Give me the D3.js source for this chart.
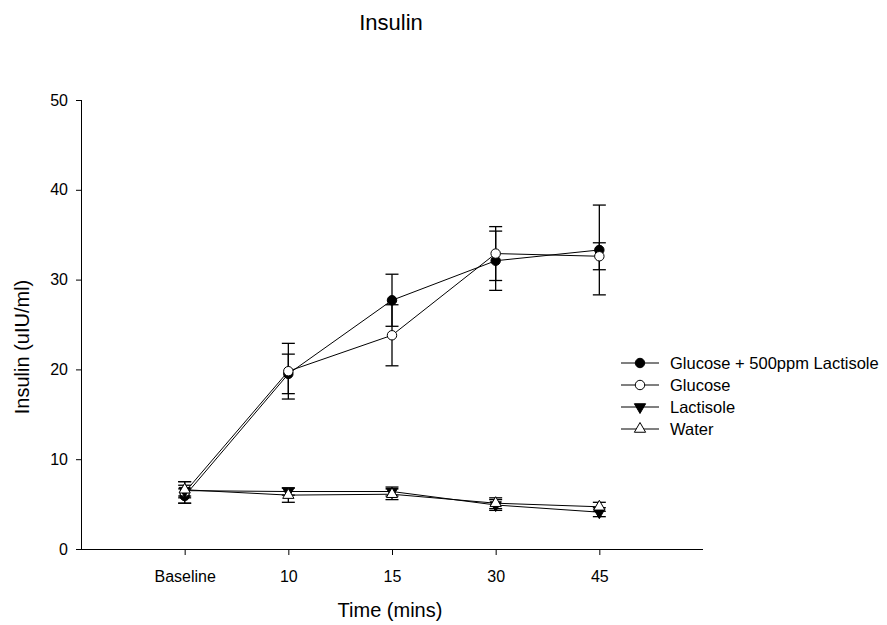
<!DOCTYPE html>
<html>
<head>
<meta charset="utf-8">
<script src="https://cdn.jsdelivr.net/npm/d3@7"></script>
<style>
  body { margin: 0; background: #fff; }
  svg { font-family: "Liberation Sans", Arial, sans-serif; }
</style>
</head>
<body>
<svg id="chart" width="887" height="625"></svg>
<script>
// time points
const timeLabels = ["Baseline", "10", "15", "30", "45"];

// means (uIU/ml)
const glucoseLactisole = [5.9, 19.5, 27.7, 32.1, 33.3];
const glucose = [6.3, 19.8, 23.8, 32.9, 32.6];
const lactisole = [6.5, 6.4, 6.4, 4.9, 4.1];
const water = [6.6, 6.0, 6.1, 5.1, 4.7];

// error bars (+/-)
const glucoseLactisoleErr = [0.8, 2.2, 2.9, 3.3, 5.0];
const glucoseErr = [1.2, 3.1, 3.4, 3.0, 1.5];
const lactisoleErr = [0.6, 0.4, 0.5, 0.6, 0.5];
const waterErr = [0.9, 0.8, 0.6, 0.6, 0.5];

const yTicks = [0, 10, 20, 30, 40, 50];

const series = [
  { name: "Glucose + 500ppm Lactisole", values: glucoseLactisole, err: glucoseLactisoleErr, shape: d3.symbolCircle, fill: "#000" },
  { name: "Glucose", values: glucose, err: glucoseErr, shape: d3.symbolCircle, fill: "#fff" },
  { name: "Lactisole", values: lactisole, err: lactisoleErr, shape: "down", fill: "#000" },
  { name: "Water", values: water, err: waterErr, shape: d3.symbolTriangle, fill: "#fff" }
];

const svg = d3.select("#chart");
const plotLeft = 81, plotRight = 703, plotTop = 100, plotBottom = 549;

const x = d3.scalePoint().domain(timeLabels).range([plotLeft, plotRight]).padding(1);
const y = d3.scaleLinear().domain([0, 50]).range([plotBottom, plotTop]);

function symbolPath(shape) {
  if (shape === "down") {
    return d3.symbol().type(d3.symbolTriangle).size(55)();
  }
  return d3.symbol().type(shape).size(shape === d3.symbolCircle ? 70 : 55)();
}

// title
svg.append("text")
  .attr("x", 391).attr("y", 30)
  .attr("text-anchor", "middle")
  .attr("font-size", 22)
  .text("Insulin");

// axes
const xAxis = svg.append("g")
  .attr("transform", `translate(0,${plotBottom})`)
  .call(d3.axisBottom(x).tickSize(6).tickPadding(16));
xAxis.select(".domain").attr("d", `M${plotLeft},0.5H${plotRight}`).attr("stroke", "#000");
xAxis.selectAll("text").attr("font-size", 16).attr("fill", "#000");

const yAxis = svg.append("g")
  .attr("transform", `translate(${plotLeft},0)`)
  .call(d3.axisLeft(y).tickValues(yTicks).tickSize(5).tickPadding(8));
yAxis.select(".domain").attr("d", `M0.5,${plotTop}V${plotBottom}`).attr("stroke", "#000");
yAxis.selectAll("text").attr("font-size", 16).attr("fill", "#000");

svg.append("text")
  .attr("x", 390).attr("y", 617)
  .attr("text-anchor", "middle")
  .attr("font-size", 20)
  .text("Time (mins)");

svg.append("text")
  .attr("transform", "translate(29,347) rotate(-90)")
  .attr("text-anchor", "middle")
  .attr("font-size", 20)
  .text("Insulin (uIU/ml)");

const line = d3.line()
  .x((d, i) => x(timeLabels[i]))
  .y(d => y(d));

series.forEach(s => {
  const g = svg.append("g");
  g.append("path")
    .attr("d", line(s.values))
    .attr("fill", "none")
    .attr("stroke", "#000")
    .attr("stroke-width", 1);

  const bars = g.selectAll(".err")
    .data(s.values.map((v, i) => ({ v, e: s.err[i], t: timeLabels[i] })))
    .enter().append("g");
  bars.append("line")
    .attr("x1", d => x(d.t)).attr("x2", d => x(d.t))
    .attr("y1", d => y(d.v + d.e)).attr("y2", d => y(d.v - d.e))
    .attr("stroke", "#000").attr("stroke-width", 1.3);
  [1, -1].forEach(sign => {
    bars.append("line")
      .attr("x1", d => x(d.t) - 6.5).attr("x2", d => x(d.t) + 6.5)
      .attr("y1", d => y(d.v + sign * d.e)).attr("y2", d => y(d.v + sign * d.e))
      .attr("stroke", "#000").attr("stroke-width", 1.3);
  });

  g.selectAll(".sym")
    .data(s.values)
    .enter().append("path")
    .attr("d", symbolPath(s.shape))
    .attr("transform", (d, i) => `translate(${x(timeLabels[i])},${y(d)})${s.shape === "down" ? " rotate(180)" : ""}`)
    .attr("fill", s.fill)
    .attr("stroke", "#000")
    .attr("stroke-width", 1);
});

// legend
const legendY = d3.scaleBand().domain(series.map(s => s.name)).range([352, 440]);
const legend = svg.append("g");
series.forEach(s => {
  const cy = legendY(s.name) + legendY.bandwidth() / 2;
  legend.append("line")
    .attr("x1", 621).attr("x2", 659)
    .attr("y1", cy).attr("y2", cy)
    .attr("stroke", "#000");
  legend.append("path")
    .attr("d", symbolPath(s.shape))
    .attr("transform", `translate(640,${cy})${s.shape === "down" ? " rotate(180)" : ""}`)
    .attr("fill", s.fill)
    .attr("stroke", "#000");
  legend.append("text")
    .attr("x", 670).attr("y", cy)
    .attr("dy", "0.35em")
    .attr("font-size", 16.5)
    .text(s.name);
});
</script>
</body>
</html>
